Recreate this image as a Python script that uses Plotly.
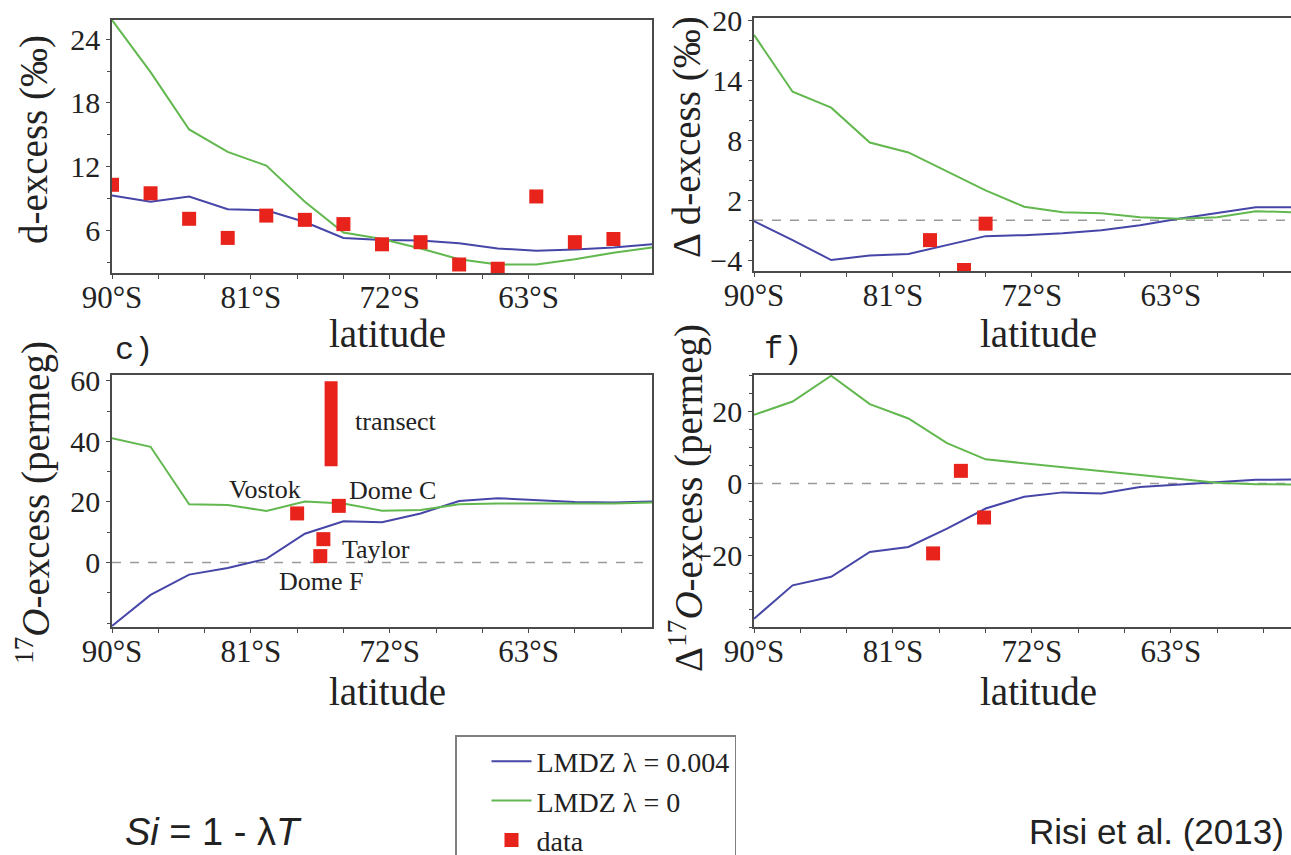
import plotly.graph_objects as go

W, H = 1291, 855

# ---------------- data ----------------
lat = [-90, -87.5, -85, -82.5, -80, -77.5, -75, -72.5, -70, -67.5, -65, -62.5, -60, -57.5, -55]

# a) d-excess
dex_lam004 = [9.3, 8.7, 9.2, 8.0, 7.9, 6.8, 5.3, 5.1, 5.05, 4.8, 4.3, 4.1, 4.2, 4.4, 4.7]
dex_lam0 = [25.8, 20.9, 15.5, 13.4, 12.1, 8.7, 5.8, 5.2, 4.3, 3.3, 2.8, 2.8, 3.3, 3.9, 4.4]
dex_obs_lat = [-90, -87.5, -85, -82.5, -80, -77.5, -75, -72.5, -70, -67.5, -65, -62.5, -60, -57.5]
dex_obs = [10.3, 9.5, 7.1, 5.3, 7.4, 7.0, 6.6, 4.7, 4.9, 2.8, 2.4, 9.2, 4.9, 5.2]

# b) delta d-excess
ddex_lam004 = [-0.1, -2.0, -4.0, -3.55, -3.4, -2.5, -1.6, -1.5, -1.3, -1.0, -0.5, 0.15, 0.7, 1.3, 1.3]
ddex_lam0 = [18.6, 12.9, 11.3, 7.8, 6.8, 4.9, 3.0, 1.35, 0.8, 0.7, 0.3, 0.15, 0.3, 0.9, 0.8]
ddex_obs_lat = [-78.6, -76.4, -75.0]
ddex_obs = [-2.0, -5.0, -0.35]

# c) 17O-excess
o17_lam004 = [-21.0, -10.7, -4.0, -1.8, 1.2, 9.5, 13.6, 13.3, 16.2, 20.3, 21.2, 20.5, 20.0, 19.8, 20.1]
o17_lam0 = [41.0, 38.2, 19.2, 19.0, 17.0, 20.1, 19.5, 17.1, 17.3, 19.2, 19.5, 19.5, 19.5, 19.5, 19.8]
o17_sites = ["Vostok", "Dome C", "Taylor", "Dome F"]
o17_obs_lat = [-78.0, -75.3, -76.3, -76.5]
o17_obs = [16.2, 18.7, 7.7, 2.1]
transect_lat = [-75.8, -75.8]
transect_range = [31.8, 59.8]

# f) delta 17O-excess
do17_lam004 = [-37.7, -28.4, -26.0, -19.1, -17.7, -12.6, -7.0, -3.7, -2.5, -2.8, -1.0, -0.3, 0.2, 1.0, 1.1]
do17_lam0 = [19.1, 22.8, 30.0, 22.1, 18.1, 11.2, 6.7, 5.6, 4.6, 3.6, 2.4, 1.2, 0.2, -0.2, -0.3]
do17_obs_lat = [-76.6, -75.1, -78.4]
do17_obs = [3.5, -9.5, -19.5]

lat_tickvals = [-90, -81, -72, -63]
lat_ticktext = ["90°S", "81°S", "72°S", "63°S"]

# ---------------- style ----------------
BLUE = "#4646a8"
GREEN = "#62b84e"
RED = "#e8231c"
AX = "#4a4a4a"
TXT = "#222222"
SERIF = "Liberation Serif, DejaVu Serif, serif"
SANS = "Liberation Sans, Arial, sans-serif"
MONO = "Liberation Mono, DejaVu Sans Mono, monospace"


def px_x(p):
    return p / W


def px_y(p):
    return 1 - p / H


fig = go.Figure()

panels = [
    ("", dex_lam004, dex_lam0, dex_obs_lat, dex_obs, True),
    ("2", ddex_lam004, ddex_lam0, ddex_obs_lat, ddex_obs, False),
    ("3", o17_lam004, o17_lam0, o17_obs_lat, o17_obs, False),
    ("4", do17_lam004, do17_lam0, do17_obs_lat, do17_obs, False),
]

for suf, l004, l0, olat, obs, leg in panels:
    xa, ya = "x" + suf, "y" + suf
    fig.add_trace(go.Scatter(x=lat, y=l004, mode="lines", line=dict(color=BLUE, width=2),
                             name="LMDZ λ = 0.004", showlegend=leg, xaxis=xa, yaxis=ya))
    fig.add_trace(go.Scatter(x=lat, y=l0, mode="lines", line=dict(color=GREEN, width=2),
                             name="LMDZ λ = 0", showlegend=leg, xaxis=xa, yaxis=ya))
    if suf == "3":
        fig.add_trace(go.Scatter(x=transect_lat, y=transect_range, mode="lines",
                                 line=dict(color=RED, width=13), showlegend=False,
                                 xaxis=xa, yaxis=ya))
    fig.add_trace(go.Scatter(x=olat, y=obs, mode="markers",
                             marker=dict(symbol="square", size=14, color=RED),
                             name="data", showlegend=leg, xaxis=xa, yaxis=ya))

# ---------------- axes ----------------
dom_left = [px_x(112), px_x(652)]
dom_right = [px_x(754), 1.0]
dom_top = [px_y(273), px_y(20)]
dom_top_b = [px_y(271), px_y(18)]
dom_bot = [px_y(627), px_y(375)]


def xaxis(domain, rng, anchor):
    return dict(domain=domain, range=rng, anchor=anchor,
                tickmode="array", tickvals=lat_tickvals, ticktext=lat_ticktext,
                ticks="outside", ticklen=4, tickwidth=1.2, tickcolor=AX,
                showline=True, linecolor=AX, linewidth=1.6, mirror=True,
                showgrid=False, zeroline=False, ticklabelstandoff=-8,
                tickfont=dict(family=SERIF, size=31, color=TXT),
                minor=dict(tickmode="linear", tick0=-90, dtick=3, ticks="outside",
                           ticklen=4, tickcolor=AX, showgrid=False))


def yaxis(domain, rng, anchor, tickvals, minor_dtick, minor_tick0, mirror):
    return dict(domain=domain, range=rng, anchor=anchor,
                tickmode="array", tickvals=tickvals,
                ticks="outside", ticklen=4, tickwidth=1.2, tickcolor=AX,
                showline=True, linecolor=AX, linewidth=1.6, mirror=mirror,
                showgrid=False, zeroline=False,
                tickfont=dict(family=SERIF, size=30, color=TXT),
                minor=dict(tickmode="linear", tick0=minor_tick0, dtick=minor_dtick,
                           ticks="outside", ticklen=3, tickcolor=AX, showgrid=False))


fig.update_layout(
    xaxis=xaxis(dom_left, [-90, -55], "y"),
    yaxis=yaxis(dom_top, [2.0, 25.8], "x", [6, 12, 18, 24], 3, 0, True),
    xaxis2=xaxis(dom_right, [-90, -55.22], "y2"),
    yaxis2=yaxis(dom_top_b, [-5.1, 20.3], "x2", [-4, 2, 8, 14, 20], 2, 0, False),
    xaxis3=xaxis(dom_left, [-90, -55], "y3"),
    yaxis3=yaxis(dom_bot, [-21.3, 61.9], "x3", [0, 20, 40, 60], 10, 0, True),
    xaxis4=xaxis(dom_right, [-90, -55.22], "y4"),
    yaxis4=yaxis(dom_bot, [-40.0, 30.2], "x4", [-20, 0, 20], 5, 0, False),
)

# dashed zero lines
for suf in ["2", "3", "4"]:
    fig.add_shape(type="line", xref="x" + suf + " domain", yref="y" + suf,
                  x0=0, x1=1, y0=0, y1=0, layer="below",
                  line=dict(color="#9a9a9a", width=1.5, dash="dash"))

ann = []


def text(x, y, s, size, family=SERIF, angle=0, xanchor="center", xref="paper", yref="paper"):
    ann.append(dict(x=x, y=y, xref=xref, yref=yref, text=s, showarrow=False,
                    textangle=angle, xanchor=xanchor, yanchor="middle",
                    font=dict(family=family, size=size, color=TXT)))


# axis titles
text(px_x(387), px_y(333), "latitude", 39)
text(px_x(1038), px_y(333), "latitude", 39)
text(px_x(387), px_y(691), "latitude", 39)
text(px_x(1038), px_y(691), "latitude", 39)
text(px_x(34), px_y(140), "d-excess (‰)", 39, angle=-90)
text(px_x(687), px_y(137), "Δ d-excess (‰)", 39, angle=-90)
text(px_x(33), px_y(503), "<sup>17</sup><i>O</i>-excess (permeg)", 39, angle=-90)
text(px_x(686), px_y(498), "Δ<sup>17</sup><i>O</i>-excess (permeg)", 39, angle=-90)

# panel labels
text(px_x(134), px_y(350), "c)", 32, family=MONO)
text(px_x(783), px_y(349), "f)", 32, family=MONO)

# site labels in panel c
site_label_pos = {"transect": (-71.6, 46.5), "Vostok": (-80.1, 24.2), "Dome C": (-71.8, 23.7),
                  "Taylor": (-72.9, 4.4), "Dome F": (-76.4, -6.4)}
for name, (lx, ly) in site_label_pos.items():
    text(lx, ly, name, 26, xref="x3", yref="y3")

# bottom texts
text(px_x(213), px_y(832), "<i>Si</i> = 1 - λ<i>T</i>", 38, family=SANS)
text(px_x(1286), px_y(831), "Risi et al. (2013)", 35, family=SANS, xanchor="right")

fig.update_layout(
    width=W, height=H,
    margin=dict(l=0, r=0, t=0, b=0, autoexpand=False),
    paper_bgcolor="white", plot_bgcolor="white",
    annotations=ann,
    showlegend=True,
    legend=dict(x=px_x(455), y=px_y(735), xanchor="left", yanchor="top",
                bgcolor="white", bordercolor="#808080", borderwidth=1.5,
                font=dict(family=SERIF, size=28, color=TXT),
                indentation=30, itemwidth=40, tracegroupgap=0),
)

fig.write_html("out.html")
